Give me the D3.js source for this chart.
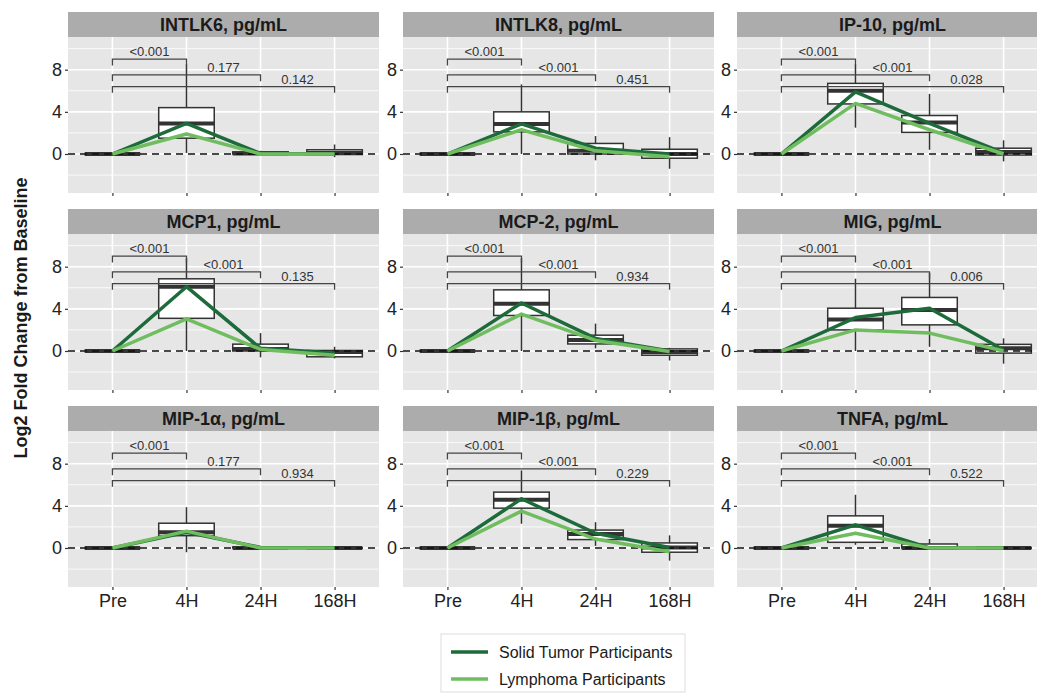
<html>
<head>
    <script src='https://cdnjs.cloudflare.com/ajax/libs/d3/7.8.5/d3.min.js'></script>
    <style>
        body { margin: 0; background: #fff; }
        text { font-family: Arial, 'Liberation Sans', sans-serif; }
    </style>
</head>
<body>
</body>

<script>
    var timepoints = ['Pre', '4H', '24H', '168H'];
    var cytokines = ['INTLK6, pg/mL', 'INTLK8, pg/mL', 'IP-10, pg/mL',
                     'MCP1, pg/mL', 'MCP-2, pg/mL', 'MIG, pg/mL',
                     'MIP-1\u03b1, pg/mL', 'MIP-1\u03b2, pg/mL', 'TNFA, pg/mL'];

    // [lower whisker, q1, median, q3, upper whisker] for Pre, 4H, 24H, 168H
    var boxStats = [
        [[0, 0, 0, 0, 0], [0.1, 1.5, 2.9, 4.4, 8.5], [-0.1, 0, 0.05, 0.2, 0.3], [-0.3, -0.05, 0.1, 0.4, 0.9]],
        [[0, 0, 0, 0, 0], [0, 2.1, 2.85, 4.0, 6.6], [-0.6, 0, 0.3, 1.0, 1.7], [-1.4, -0.4, 0, 0.45, 1.6]],
        [[0, 0, 0, 0, 0], [2.5, 4.75, 6.0, 6.7, 8.5], [0.4, 2.05, 3.0, 3.65, 5.7], [-0.7, -0.1, 0.2, 0.55, 1.3]],
        [[0, 0, 0, 0, 0], [0, 3.1, 6.1, 6.85, 8.8], [-0.6, 0, 0.2, 0.65, 1.7], [-0.7, -0.55, -0.1, 0.05, 0.4]],
        [[0, 0, 0, 0, 0], [0, 3.37, 4.48, 5.8, 8.8], [0.25, 0.67, 1.05, 1.5, 2.6], [-0.9, -0.4, -0.1, 0.2, 0.3]],
        [[0, 0, 0, 0, 0], [0, 2.0, 3.0, 4.06, 6.86], [0.4, 2.48, 3.9, 5.08, 7.4], [-1.2, -0.2, 0.25, 0.63, 1.2]],
        [[0, 0, 0, 0, 0], [-0.4, 1.17, 1.5, 2.35, 3.87], [-0.05, 0, 0, 0.1, 0.2], [0, 0, 0, 0, 0]],
        [[0, 0, 0, 0, 0], [2.3, 3.78, 4.57, 5.3, 7.36], [0.2, 0.8, 1.33, 1.7, 2.45], [-1.2, -0.4, 0.05, 0.48, 1.2]],
        [[0, 0, 0, 0, 0], [0.3, 0.54, 2.1, 3.05, 5.05], [-0.1, 0, 0, 0.38, 0.85], [0, 0, 0, 0, 0]]
    ];

    var solidTumor = [
        [0, 2.9, 0.05, 0], [0, 2.85, 0.55, 0], [0, 5.9, 2.9, 0.1],
        [0, 6.1, 0.25, -0.2], [0, 4.55, 1.2, 0], [0, 3.17, 4.06, 0.1],
        [0, 1.5, 0.05, 0], [0, 4.67, 1.4, 0.05], [0, 2.2, 0, 0]
    ];
    var lymphoma = [
        [0, 1.9, 0, 0], [0, 2.3, 0.3, -0.25], [0, 4.8, 2.3, 0],
        [0, 3.05, 0.15, -0.4], [0, 3.5, 1.0, -0.05], [0, 2.0, 1.7, 0],
        [0, 1.6, 0, 0], [0, 3.5, 0.85, -0.35], [0, 1.4, 0, 0]
    ];

    // Pre vs 4H, Pre vs 24H, Pre vs 168H
    var pValues = [
        ['<0.001', '0.177', '0.142'], ['<0.001', '<0.001', '0.451'], ['<0.001', '<0.001', '0.028'],
        ['<0.001', '<0.001', '0.135'], ['<0.001', '<0.001', '0.934'], ['<0.001', '<0.001', '0.006'],
        ['<0.001', '0.177', '0.934'], ['<0.001', '<0.001', '0.229'], ['<0.001', '<0.001', '0.522']
    ];

    var yTicks = [0, 4, 8];
    var yMinor = [-2, 2, 6, 10];
    var legendLabels = ['Solid Tumor Participants', 'Lymphoma Participants'];
    var colors = ['#1d6b3a', '#70bd60'];

    var W = 1037, H = 694;
    var panelW = 311, panelH = 156, stripH = 25;
    var colLeft = [68, 403, 737];
    var rowTop = [12, 209, 406];
    var bracketLevels = [9.0, 7.5, 6.4];

    var svg = d3.select('body').append('svg')
                .attr('width', W).attr('height', H);

    var x = d3.scalePoint().domain(timepoints).range([0, panelW]).padding(0.6);
    var y = d3.scaleLinear().domain([-3.7, 11.1]).range([panelH, 0]);
    var boxW = x.step() * 0.75;

    cytokines.forEach(function (name, i) {
        var r = Math.floor(i / 3), c = i % 3;
        var g = svg.append('g')
                   .attr('transform', 'translate(' + colLeft[c] + ',' + rowTop[r] + ')');

        g.append('rect')
         .attr('width', panelW).attr('height', stripH)
         .style('fill', '#acacac');
        g.append('text')
         .attr('x', panelW / 2).attr('y', stripH / 2 + 6)
         .attr('text-anchor', 'middle')
         .style('font-size', '18px').style('font-weight', 'bold').style('fill', '#1a1a1a')
         .text(name);

        var p = g.append('g').attr('transform', 'translate(0,' + stripH + ')');
        var clipId = 'clip' + i;
        p.append('clipPath').attr('id', clipId)
         .append('rect').attr('width', panelW).attr('height', panelH);

        p.append('rect')
         .attr('width', panelW).attr('height', panelH)
         .style('fill', '#e6e6e6');

        var body = p.append('g').attr('clip-path', 'url(#' + clipId + ')');

        body.selectAll('.minor').data(yMinor).enter().append('line')
            .attr('x1', 0).attr('x2', panelW)
            .attr('y1', y).attr('y2', y)
            .style('stroke', '#fff').style('stroke-width', 0.8);
        body.selectAll('.major').data(yTicks).enter().append('line')
            .attr('x1', 0).attr('x2', panelW)
            .attr('y1', y).attr('y2', y)
            .style('stroke', '#fff').style('stroke-width', 1.6);
        body.selectAll('.vgrid').data(timepoints).enter().append('line')
            .attr('x1', x).attr('x2', x)
            .attr('y1', 0).attr('y2', panelH)
            .style('stroke', '#fff').style('stroke-width', 1.6);

        var boxes = body.selectAll('.box').data(boxStats[i]).enter().append('g');
        boxes.append('line')
             .attr('x1', function (d, j) { return x(timepoints[j]); })
             .attr('x2', function (d, j) { return x(timepoints[j]); })
             .attr('y1', function (d) { return y(d[0]); })
             .attr('y2', function (d) { return y(d[4]); })
             .style('stroke', '#333').style('stroke-width', 1.5);
        boxes.append('rect')
             .attr('x', function (d, j) { return x(timepoints[j]) - boxW / 2; })
             .attr('width', boxW)
             .attr('y', function (d) { return y(d[3]); })
             .attr('height', function (d) { return y(d[1]) - y(d[3]); })
             .style('fill', '#fff').style('stroke', '#333').style('stroke-width', 1.5);
        boxes.append('line')
             .attr('x1', function (d, j) { return x(timepoints[j]) - boxW / 2; })
             .attr('x2', function (d, j) { return x(timepoints[j]) + boxW / 2; })
             .attr('y1', function (d) { return y(d[2]); })
             .attr('y2', function (d) { return y(d[2]); })
             .style('stroke', '#333').style('stroke-width', 4);

        body.append('line')
            .attr('x1', 0).attr('x2', panelW)
            .attr('y1', y(0)).attr('y2', y(0))
            .style('stroke', '#111').style('stroke-width', 1.5)
            .style('stroke-dasharray', '7,5');

        var line = d3.line()
                     .x(function (d, j) { return x(timepoints[j]); })
                     .y(function (d) { return y(d); });
        [solidTumor[i], lymphoma[i]].forEach(function (series, k) {
            body.append('path')
                .attr('d', line(series))
                .style('fill', 'none')
                .style('stroke', colors[k])
                .style('stroke-width', 3.5)
                .style('stroke-linejoin', 'round');
        });

        pValues[i].forEach(function (label, k) {
            var x0 = x(timepoints[0]), x1 = x(timepoints[k + 1]);
            var top = y(bracketLevels[k]), drop = y(bracketLevels[k] - 0.6);
            body.append('path')
                .attr('d', 'M' + x0 + ',' + drop + 'V' + top + 'H' + x1 + 'V' + drop)
                .style('fill', 'none').style('stroke', '#444').style('stroke-width', 1.3);
            body.append('text')
                .attr('x', (x(timepoints[k]) + x1) / 2)
                .attr('y', top - 3)
                .attr('text-anchor', 'middle')
                .style('font-size', '13px').style('fill', '#333')
                .text(label);
        });

        var yAxis = p.append('g')
                     .call(d3.axisLeft(y).tickValues(yTicks).tickSize(3).tickPadding(3)
                                         .tickFormat(d3.format('d')));
        yAxis.select('.domain').remove();
        yAxis.selectAll('line').style('stroke', '#333').style('stroke-width', 1.2);
        yAxis.selectAll('text').style('font-size', '18px').style('fill', '#222')
             .style('font-family', 'Arial, Liberation Sans, sans-serif');

        var xAxis = p.append('g')
                     .attr('transform', 'translate(0,' + panelH + ')')
                     .call(d3.axisBottom(x).tickSize(3).tickPadding(4));
        xAxis.select('.domain').remove();
        xAxis.selectAll('line').style('stroke', '#333').style('stroke-width', 1.2);
        if (r < 2) {
            xAxis.selectAll('text').remove();
        } else {
            xAxis.selectAll('text').style('font-size', '18px').style('fill', '#222')
                 .style('font-family', 'Arial, Liberation Sans, sans-serif');
        }
    });

    svg.append('text')
       .attr('transform', 'translate(27,318) rotate(-90)')
       .attr('text-anchor', 'middle')
       .style('font-size', '18px').style('font-weight', 'bold').style('fill', '#1a1a1a')
       .text('Log2 Fold Change from Baseline');

    var legend = svg.append('g').attr('transform', 'translate(441,634)');
    legend.append('rect')
          .attr('width', 244).attr('height', 58)
          .style('fill', '#fff').style('stroke', '#ddd').style('stroke-width', 1);
    legendLabels.forEach(function (label, k) {
        var ly = 18 + k * 27;
        legend.append('line')
              .attr('x1', 10).attr('x2', 47)
              .attr('y1', ly).attr('y2', ly)
              .style('stroke', colors[k]).style('stroke-width', 3.5);
        legend.append('text')
              .attr('x', 58).attr('y', ly + 6)
              .style('font-size', '16px').style('fill', '#1a1a1a')
              .text(label);
    });
</script>
</html>
